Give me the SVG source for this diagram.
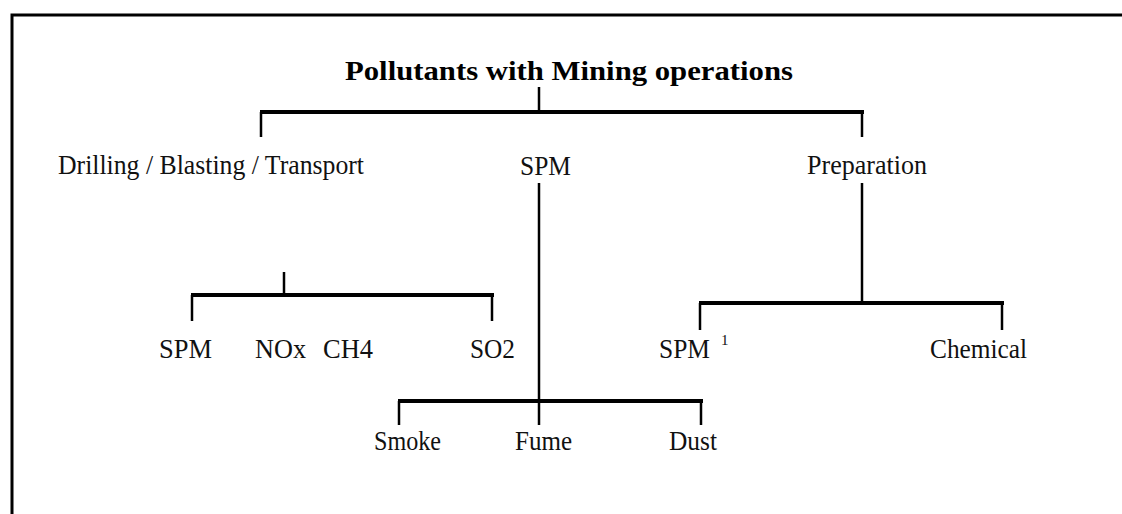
<svg xmlns="http://www.w3.org/2000/svg" width="1122" height="514" viewBox="0 0 1122 514">
<style>
.t{font-family:"Liberation Serif","Times New Roman",serif;font-size:26.5px;fill:#111}
.title{font-family:"Liberation Serif","Times New Roman",serif;font-size:28px;font-weight:bold;fill:#000}
.bar{stroke:#000;stroke-width:4;fill:none}
.drop{stroke:#000;stroke-width:2.5;fill:none}
</style>
<rect x="0" y="0" width="1122" height="514" fill="#fff"/>
<rect x="12" y="15" width="1130" height="520" fill="none" stroke="#000" stroke-width="3"/>
<g id="connectors">
<line class="drop" x1="539" y1="87" x2="539" y2="112"/>
<line class="bar" x1="260" y1="112" x2="864" y2="112"/>
<line class="drop" x1="261" y1="112" x2="261" y2="137"/>
<line class="drop" x1="862" y1="112" x2="862" y2="137"/>
<line class="drop" x1="539" y1="183" x2="539" y2="425"/>
<line class="bar" x1="398" y1="401" x2="703" y2="401"/>
<line class="drop" x1="399" y1="401" x2="399" y2="425"/>
<line class="drop" x1="701" y1="401" x2="701" y2="425"/>
<line class="drop" x1="284" y1="272" x2="284" y2="295"/>
<line class="bar" x1="191" y1="295" x2="494" y2="295"/>
<line class="drop" x1="192" y1="295" x2="192" y2="321"/>
<line class="drop" x1="492" y1="295" x2="492" y2="321"/>
<line class="drop" x1="862" y1="183" x2="862" y2="303"/>
<line class="bar" x1="699" y1="303" x2="1004" y2="303"/>
<line class="drop" x1="700" y1="303" x2="700" y2="330"/>
<line class="drop" x1="1002" y1="303" x2="1002" y2="330"/>
</g>
<g id="title"><text class="title" x="345" y="80" textLength="448" lengthAdjust="spacingAndGlyphs">Pollutants with Mining operations</text></g>
<g id="drilling"><text class="t" x="58" y="174" textLength="306" lengthAdjust="spacingAndGlyphs">Drilling / Blasting / Transport</text></g>
<g id="spm-main"><text class="t" x="520" y="175" textLength="51" lengthAdjust="spacingAndGlyphs">SPM</text></g>
<g id="preparation"><text class="t" x="807" y="174" textLength="120" lengthAdjust="spacingAndGlyphs">Preparation</text></g>
<g id="spm-left"><text class="t" x="159" y="358" textLength="53" lengthAdjust="spacingAndGlyphs">SPM</text></g>
<g id="nox"><text class="t" x="255" y="358" textLength="51" lengthAdjust="spacingAndGlyphs">NOx</text></g>
<g id="ch4"><text class="t" x="323" y="358" textLength="50" lengthAdjust="spacingAndGlyphs">CH4</text></g>
<g id="so2"><text class="t" x="470" y="358" textLength="45" lengthAdjust="spacingAndGlyphs">SO2</text></g>
<g id="spm-right"><text class="t" x="659" y="358" textLength="51" lengthAdjust="spacingAndGlyphs">SPM</text><text class="t" x="721" y="345" style="font-size:15px">1</text></g>
<g id="chemical"><text class="t" x="930" y="358" textLength="97" lengthAdjust="spacingAndGlyphs">Chemical</text></g>
<g id="smoke"><text class="t" x="374" y="450" textLength="67" lengthAdjust="spacingAndGlyphs">Smoke</text></g>
<g id="fume"><text class="t" x="515" y="450" textLength="57" lengthAdjust="spacingAndGlyphs">Fume</text></g>
<g id="dust"><text class="t" x="669" y="450" textLength="48" lengthAdjust="spacingAndGlyphs">Dust</text></g>
</svg>
